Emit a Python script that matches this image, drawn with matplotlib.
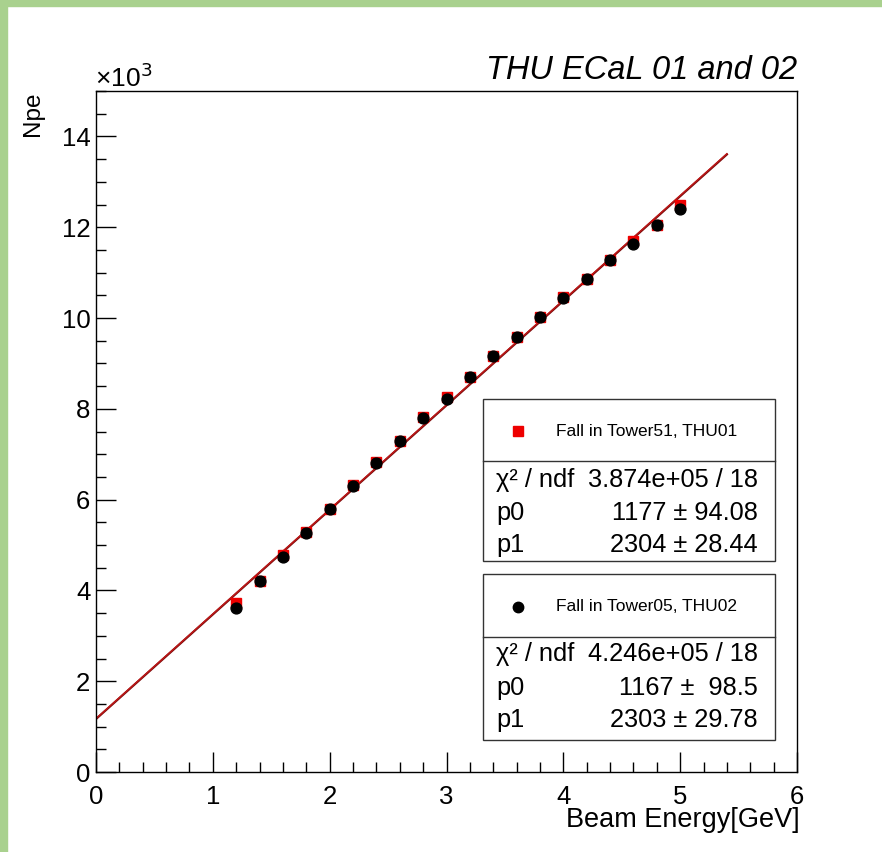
import matplotlib
matplotlib.use("Agg")
import matplotlib.pyplot as plt
import numpy as np
from matplotlib.patches import Rectangle
from matplotlib.lines import Line2D
from matplotlib.ticker import MultipleLocator

plt.rcParams['font.family'] = ['Liberation Sans', 'DejaVu Sans']

# beam energies (GeV) and photoelectron counts
energy = [1.2, 1.4, 1.6, 1.8, 2.0, 2.2, 2.4, 2.6, 2.8, 3.0,
          3.2, 3.4, 3.6, 3.8, 4.0, 4.2, 4.4, 4.6, 4.8, 5.0]
npe_thu01 = [3720, 4210, 4780, 5280, 5800, 6320, 6820, 7300, 7810, 8270,
             8710, 9170, 9590, 10030, 10460, 10860, 11280, 11700, 12050, 12500]
npe_thu02 = [3610, 4200, 4730, 5270, 5800, 6310, 6800, 7290, 7800, 8220,
             8690, 9160, 9580, 10020, 10450, 10850, 11270, 11640, 12040, 12410]

# fit results shown in the stat boxes
fit_thu01 = {"chi2": "3.874e+05 / 18", "p0": 1177, "p0_err": "94.08", "p1": 2304, "p1_err": "28.44"}
fit_thu02 = {"chi2": "4.246e+05 / 18", "p0": 1167, "p0_err": " 98.5", "p1": 2303, "p1_err": "29.78"}
fit_range = [0.0, 5.4]

W, H = 882, 852
fig = plt.figure(figsize=(W / 100, H / 100), dpi=100)
fig.patch.set_facecolor('white')


def fx(x):
    return x / W


def fy(y):
    return 1 - y / H


# green page border (left and top)
green = '#a9d18e'
fig.patches.append(Rectangle((0, 0), fx(7), 1, transform=fig.transFigure, color=green, zorder=0))
fig.patches.append(Rectangle((0, fy(6)), 1, 6 / H, transform=fig.transFigure, color=green, zorder=0))

ax = fig.add_axes([fx(96), fy(772), fx(797) - fx(96), fy(91) - fy(772)])

x = np.array(energy)
ax.plot(x, np.array(npe_thu01) / 1000, 's', color='#ee0000', ms=7.8, mec='#ee0000', zorder=3)
ax.plot(x, np.array(npe_thu02) / 1000, 'o', color='black', ms=7.8, zorder=4)

xf = np.array(fit_range)
ax.plot(xf, (fit_thu02["p0"] + fit_thu02["p1"] * xf) / 1000, color='#7a0c0c', lw=1.6, zorder=2)
ax.plot(xf, (fit_thu01["p0"] + fit_thu01["p1"] * xf) / 1000, color='#c01818', lw=1.0, zorder=2)

ax.set_xlim(0, 6)
ax.set_ylim(0, 15)
ax.xaxis.set_major_locator(MultipleLocator(1))
ax.xaxis.set_minor_locator(MultipleLocator(0.2))
ax.yaxis.set_major_locator(MultipleLocator(2))
ax.yaxis.set_minor_locator(MultipleLocator(0.5))
ax.tick_params(which='both', direction='in', top=False, right=False, width=1.0, colors='black')
ax.tick_params(which='major', length=14.5, labelsize=18.5)
ax.tick_params(which='minor', length=7.5)
ax.tick_params(axis='x', pad=9)
ax.tick_params(axis='y', pad=4)
for s in ax.spines.values():
    s.set_linewidth(1.0)

# axis texts, ROOT style
fig.text(fx(95), fy(87), '×10$^3$', fontsize=19, ha='left', va='baseline')
fig.text(fx(33), fy(91), 'Npe', fontsize=17.5, rotation=90, ha='center', va='top')
fig.text(fx(800), fy(827), 'Beam Energy[GeV]', fontsize=19.5, ha='right', va='baseline')
fig.text(fx(797), fy(79), 'THU ECaL 01 and 02', fontsize=23.5, style='italic', ha='right', va='baseline')


def stat_box(top, divider, bottom, label, marker, mcolor, fit, rows_y):
    fig.patches.append(Rectangle((fx(483), fy(bottom)), fx(775) - fx(483), fy(top) - fy(bottom),
                                 transform=fig.transFigure, fill=False, ec='#333333', lw=1.0, zorder=5))
    fig.lines.append(Line2D([fx(483), fx(775)], [fy(divider), fy(divider)], transform=fig.transFigure,
                            color='#333333', lw=1.0, zorder=5))
    ym = (top + divider) / 2 + 1
    fig.lines.append(Line2D([fx(518)], [fy(ym)], transform=fig.transFigure, marker=marker,
                            color=mcolor, ms=7.5, ls='none', zorder=6))
    fig.text(fx(556), fy(ym), label, fontsize=12.5, ha='left', va='center')
    left_txt = ['χ² / ndf', 'p0', 'p1']
    right_txt = [fit["chi2"], f'{fit["p0"]} ± {fit["p0_err"]}', f'{fit["p1"]} ± {fit["p1_err"]}']
    for yy, lt, rt in zip(rows_y, left_txt, right_txt):
        fig.text(fx(496), fy(yy), lt, fontsize=18.3, ha='left', va='center')
        fig.text(fx(758), fy(yy), rt, fontsize=18.3, ha='right', va='center')


stat_box(399, 461, 561, 'Fall in Tower51, THU01', 's', '#ee0000', fit_thu01, [480, 513, 545])
stat_box(574, 637, 740, 'Fall in Tower05, THU02', 'o', 'black', fit_thu02, [654, 688, 720])

fig.savefig('out.png', dpi=100)
